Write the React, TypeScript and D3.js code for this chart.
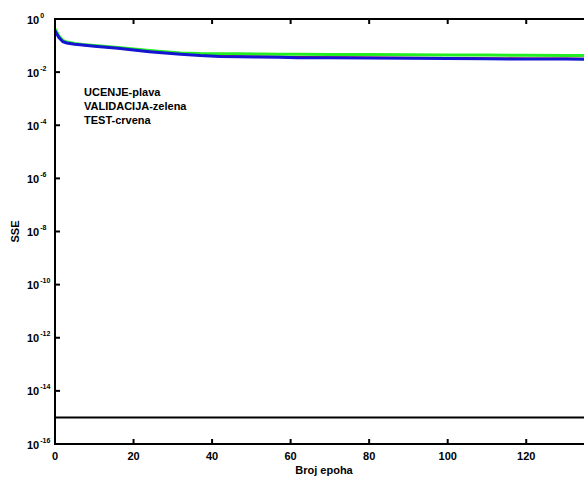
import React from "react";
import * as d3 from "d3";

const epochs = [0, 1, 2, 3, 5, 7, 10, 13, 16, 20, 24, 28, 32, 37, 42, 47, 52, 57, 62, 70, 80, 90, 100, 110, 120, 130, 137];
const trainSSE = [0.36, 0.2, 0.14, 0.125, 0.112, 0.104, 0.094, 0.086, 0.079, 0.068, 0.059, 0.052, 0.047, 0.042, 0.039, 0.038, 0.037, 0.036, 0.035, 0.0345, 0.034, 0.033, 0.0325, 0.032, 0.031, 0.031, 0.0305];
const validSSE = [0.42, 0.23, 0.155, 0.135, 0.12, 0.11, 0.1, 0.092, 0.085, 0.074, 0.065, 0.058, 0.053, 0.05, 0.049, 0.049, 0.048, 0.047, 0.047, 0.046, 0.046, 0.045, 0.044, 0.044, 0.043, 0.042, 0.042];
const testSSE = [0.37, 0.205, 0.143, 0.127, 0.114, 0.106, 0.096, 0.088, 0.081, 0.07, 0.061, 0.054, 0.049, 0.044, 0.041, 0.04, 0.039, 0.038, 0.037, 0.036, 0.0355, 0.0345, 0.034, 0.0335, 0.0325, 0.0325, 0.032];
const goal = 1e-15;
const xTicks = [0, 20, 40, 60, 80, 100, 120];
const yExponents = [0, -2, -4, -6, -8, -10, -12, -14, -16];
const legendLines = ["UCENJE-plava", "VALIDACIJA-zelena", "TEST-crvena"];

export default function App() {
  const left = 55, top = 19, bottom = 444;
  const x = d3.scaleLinear().domain([0, 137]).range([left, 593]);
  const y = d3.scaleLog().domain([1e-16, 1]).range([bottom, top]);
  const line = (vals: number[]) =>
    d3.line<number>().x((_, i) => x(epochs[i])).y((d) => y(d))(vals) || "";
  const font = "'Liberation Sans', Arial, sans-serif";
  const right = x(137);
  return (
    <div style={{ position: "absolute", left: 0, top: 0 }}>
      <svg width={584} height={478} style={{ display: "block", background: "#fff" }} fontFamily={font} fontWeight="bold">
        <path d={line(testSSE)} fill="none" stroke="#ff0000" strokeWidth={2} />
        <path d={line(validSSE)} fill="none" stroke="#22ee22" strokeWidth={3} />
        <path d={line(trainSSE)} fill="none" stroke="#1414d2" strokeWidth={3} />
        <line x1={x(0)} x2={right} y1={y(goal)} y2={y(goal)} stroke="#000" strokeWidth={2} />
        <rect x={left} y={top} width={right - left} height={bottom - top} fill="none" stroke="#000" strokeWidth={2} />
        {xTicks.map((t) => (
          <g key={"x" + t}>
            <line x1={x(t)} x2={x(t)} y1={bottom} y2={bottom - 5} stroke="#000" strokeWidth={2} />
            <line x1={x(t)} x2={x(t)} y1={top} y2={top + 5} stroke="#000" strokeWidth={2} />
            <text x={x(t)} y={460} textAnchor="middle" fontSize={11}>{t}</text>
          </g>
        ))}
        {yExponents.map((e) => (
          <g key={"y" + e}>
            <line x1={left} x2={left + 5} y1={y(Math.pow(10, e))} y2={y(Math.pow(10, e))} stroke="#000" strokeWidth={2} />
            <text x={27} y={y(Math.pow(10, e)) + 4.5} fontSize={11}>
              10
              <tspan fontSize={7} dy={-6} dx={1}>{e}</tspan>
            </text>
          </g>
        ))}
        <text x={324} y={474} textAnchor="middle" fontSize={11}>Broj epoha</text>
        <text transform={`translate(19,${(top + bottom) / 2}) rotate(-90)`} textAnchor="middle" fontSize={11}>SSE</text>
        {legendLines.map((s, i) => (
          <text key={s} x={84} y={96 + i * 14} fontSize={11}>{s}</text>
        ))}
      </svg>
    </div>
  );
}
